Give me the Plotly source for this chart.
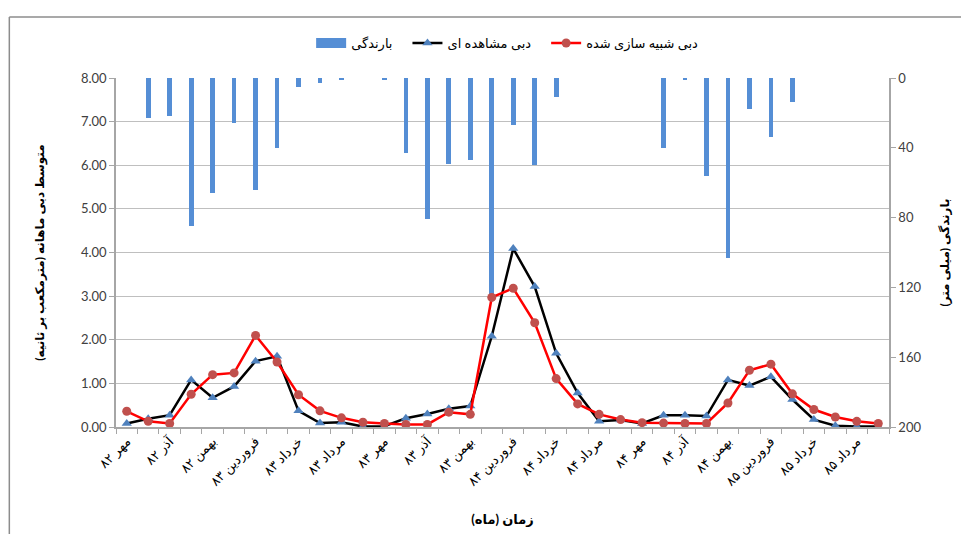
import plotly.graph_objects as go

# months: Mehr 82 .. Shahrivar 85
months = ["مهر", "آبان", "آذر", "دی", "بهمن", "اسفند",
          "فروردین", "اردیبهشت", "خرداد", "تیر", "مرداد", "شهریور"]
years = ["۸۲"] * 6 + ["۸۳"] * 12 + ["۸۴"] * 12 + ["۸۵"] * 6
month_names = [months[i % 12] for i in range(36)]
categories = [m + " " + y for m, y in zip(month_names, years)]
tick_labels = [c if i % 2 == 0 else "" for i, c in enumerate(categories)]

# rainfall (mm)
rain = [0, 23, 22, 85, 66, 26, 64, 40, 5, 3, 1.3, 0,
        1.3, 43, 81, 49, 47, 125, 27, 50, 11, 0, 0, 0,
        0, 40, 1.3, 56, 103, 18, 34, 14, 0, 0, 0, 0]

# observed discharge (m3/s)
observed = [0.08, 0.19, 0.27, 1.08, 0.67, 0.93, 1.51, 1.62, 0.37, 0.09, 0.11, 0.01,
            0.02, 0.20, 0.30, 0.42, 0.48, 2.08, 4.09, 3.22, 1.69, 0.78, 0.13, 0.16,
            0.08, 0.27, 0.27, 0.25, 1.08, 0.95, 1.15, 0.63, 0.17, 0.03, 0.01, 0.01]

# simulated discharge (m3/s)
simulated = [0.36, 0.13, 0.08, 0.75, 1.20, 1.24, 2.10, 1.49, 0.74, 0.37, 0.21, 0.11,
             0.08, 0.06, 0.06, 0.34, 0.29, 2.97, 3.18, 2.39, 1.11, 0.53, 0.29, 0.17,
             0.10, 0.09, 0.08, 0.08, 0.55, 1.30, 1.44, 0.76, 0.40, 0.23, 0.13, 0.08]

font = "Lato, DejaVu Sans, sans-serif"
axis_col = "#A6A6A6"
text_col = "#404040"
bar_col = "#558ED5"
pad = "\u00a0" * 3  # extra room between legend items

fig = go.Figure()

fig.add_trace(go.Bar(
    x=categories, y=rain, name="بارندگی", yaxis="y", showlegend=False,
    marker=dict(color=bar_col, line=dict(width=0)), width=0.22,
))
# legend entry for the bars drawn as a wide block like the original
fig.add_trace(go.Scatter(
    x=[None], y=[None], name="بارندگی" + pad, yaxis="y", mode="lines",
    line=dict(color=bar_col, width=10),
))
fig.add_trace(go.Scatter(
    x=categories, y=observed, name="دبی مشاهده ای" + pad, yaxis="y2",
    mode="lines+markers",
    line=dict(color="black", width=2.5),
    marker=dict(symbol="triangle-up", size=9, color="#4F81BD"),
))
fig.add_trace(go.Scatter(
    x=categories, y=simulated, name="دبی شبیه سازی شده", yaxis="y2",
    mode="lines+markers",
    line=dict(color="#FF0000", width=2.5),
    marker=dict(symbol="circle", size=9, color="#C0504D"),
))

# page body has an 8px margin, so the figure is drawn slightly smaller
fig.update_layout(
    width=961, height=526,
    margin=dict(l=108, r=80, t=70, b=107, autoexpand=False),
    paper_bgcolor="white", plot_bgcolor="white",
    font=dict(family=font, size=12, color=text_col),
    bargap=0,
    showlegend=True,
    legend=dict(orientation="h", x=0.506, xanchor="center", y=1.1, yanchor="middle",
                font=dict(size=13, color="black"), traceorder="normal",
                itemwidth=30),
    xaxis=dict(
        type="category", tickmode="array", tickvals=categories, ticktext=tick_labels,
        tickangle=-45, tickson="boundaries", ticks="outside", ticklen=5,
        tickcolor=axis_col, showline=True, linecolor=axis_col, linewidth=1.5,
        showgrid=False, tickfont=dict(size=13, color="black"),
        title=dict(text="<b>زمان (ماه)</b>", font=dict(size=13, color="black"), standoff=26),
        range=[-0.5, 35.5],
    ),
    yaxis=dict(
        side="right", range=[200, 0], tickvals=[0, 40, 80, 120, 160, 200],
        ticks="outside", ticklen=5, tickcolor=axis_col,
        showline=True, linecolor=axis_col, linewidth=1.5, showgrid=False,
        zeroline=False, tickfont=dict(size=13, color=text_col),
        title=dict(text="<b>بارندگی (میلی متر)</b>", font=dict(size=12, color="black"),
                   standoff=20),
    ),
    yaxis2=dict(
        side="left", overlaying="y", range=[0, 8], dtick=1, tickformat=".2f",
        ticks="outside", ticklen=5, tickcolor=axis_col,
        showline=True, linecolor=axis_col, linewidth=1.5,
        showgrid=True, gridcolor="#BFBFBF", gridwidth=1.2, zeroline=False,
        tickfont=dict(size=13, color=text_col),
        title=dict(text="<b>متوسط دبی ماهانه (مترمکعب بر ثانیه)</b>",
                   font=dict(size=12, color="black"), standoff=34),
    ),
    shapes=[
        dict(type="line", xref="paper", yref="paper", x0=-0.138, x1=-0.138,
             y0=-0.5, y1=1.175, line=dict(color="#8C8C8C", width=1.5)),
        dict(type="line", xref="paper", yref="paper", x0=-0.138, x1=1.2,
             y0=1.175, y1=1.175, line=dict(color="#8C8C8C", width=1.5)),
    ],
)

fig.write_html("out.html")
